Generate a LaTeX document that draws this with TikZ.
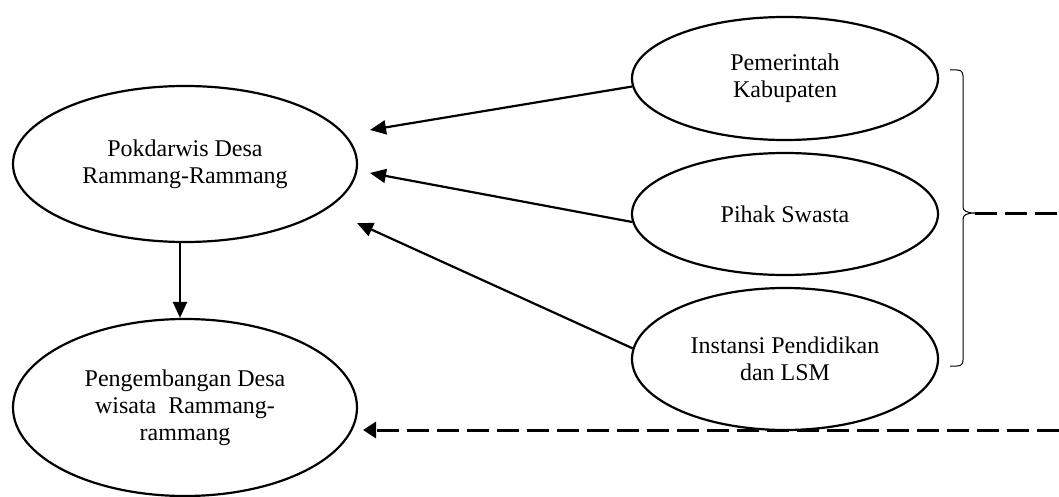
\documentclass[tikz,border=0pt]{standalone}
\usepackage{fontspec}
\setmainfont{Liberation Serif}
\usetikzlibrary{shapes.geometric,arrows.meta}
\begin{document}
\begin{tikzpicture}[x=1pt,y=-1pt,
  oval/.style={ellipse,draw,line width=2.2pt,inner sep=0pt,align=center,
    font=\fontsize{24}{27}\selectfont},
  arr/.style={line width=2.2pt,-{Triangle[length=16pt,width=14pt]}},
  darr/.style={line width=3pt,dash pattern=on 22pt off 8pt,-{Triangle[length=13pt,width=16pt]}},
  dline/.style={line width=3pt,dash pattern=on 22pt off 8pt},
  bracestyle/.style={line width=1pt}]
\useasboundingbox (0,0) rectangle (1059,497);

\node[oval,minimum width=344pt,minimum height=156pt] (pok) at (185,164)
  {Pokdarwis Desa\\Rammang-Rammang};
\node[oval,minimum width=344pt,minimum height=177pt] (peng) at (185,407.5)
  {Pengembangan Desa\\wisata\ \ Rammang-\\rammang};
\node[oval,minimum width=306pt,minimum height=123pt] (pem) at (785,78.5)
  {Pemerintah\\Kabupaten};
\node[oval,minimum width=306pt,minimum height=122pt] (pih) at (785,214)
  {Pihak Swasta};
\node[oval,minimum width=306pt,minimum height=142pt] (ins) at (785,359)
  {Instansi Pendidikan\\dan LSM};

\coordinate (t1) at (370,130);
\coordinate (t2) at (370,173);
\coordinate (t3) at (357,223);
\coordinate (t4) at (363,430);
\coordinate (r1) at (1059,213);
\coordinate (r2) at (1059,430);
\coordinate (bracetip) at (975,213);

\draw[arr] (pem.183) -- (t1);
\draw[arr] (pih.183) -- (t2);
\draw[arr] (ins.176) -- (t3);
\draw[arr] ([xshift=-5pt]pok.south) -- ([xshift=-5pt]peng.north);

\draw[bracestyle] (950,70) -- (957,70) .. controls (961,70) and (963,72) .. (963,76)
  -- (963,207) .. controls (963,211) and (967,213) .. (bracetip)
  .. controls (967,213) and (963,215) .. (963,219)
  -- (963,360) .. controls (963,364) and (961,366) .. (957,366) -- (950,366);

\draw[dline] (bracetip) -- (r1);
\draw[darr] (r2) -- (t4);
\end{tikzpicture}
\end{document}
